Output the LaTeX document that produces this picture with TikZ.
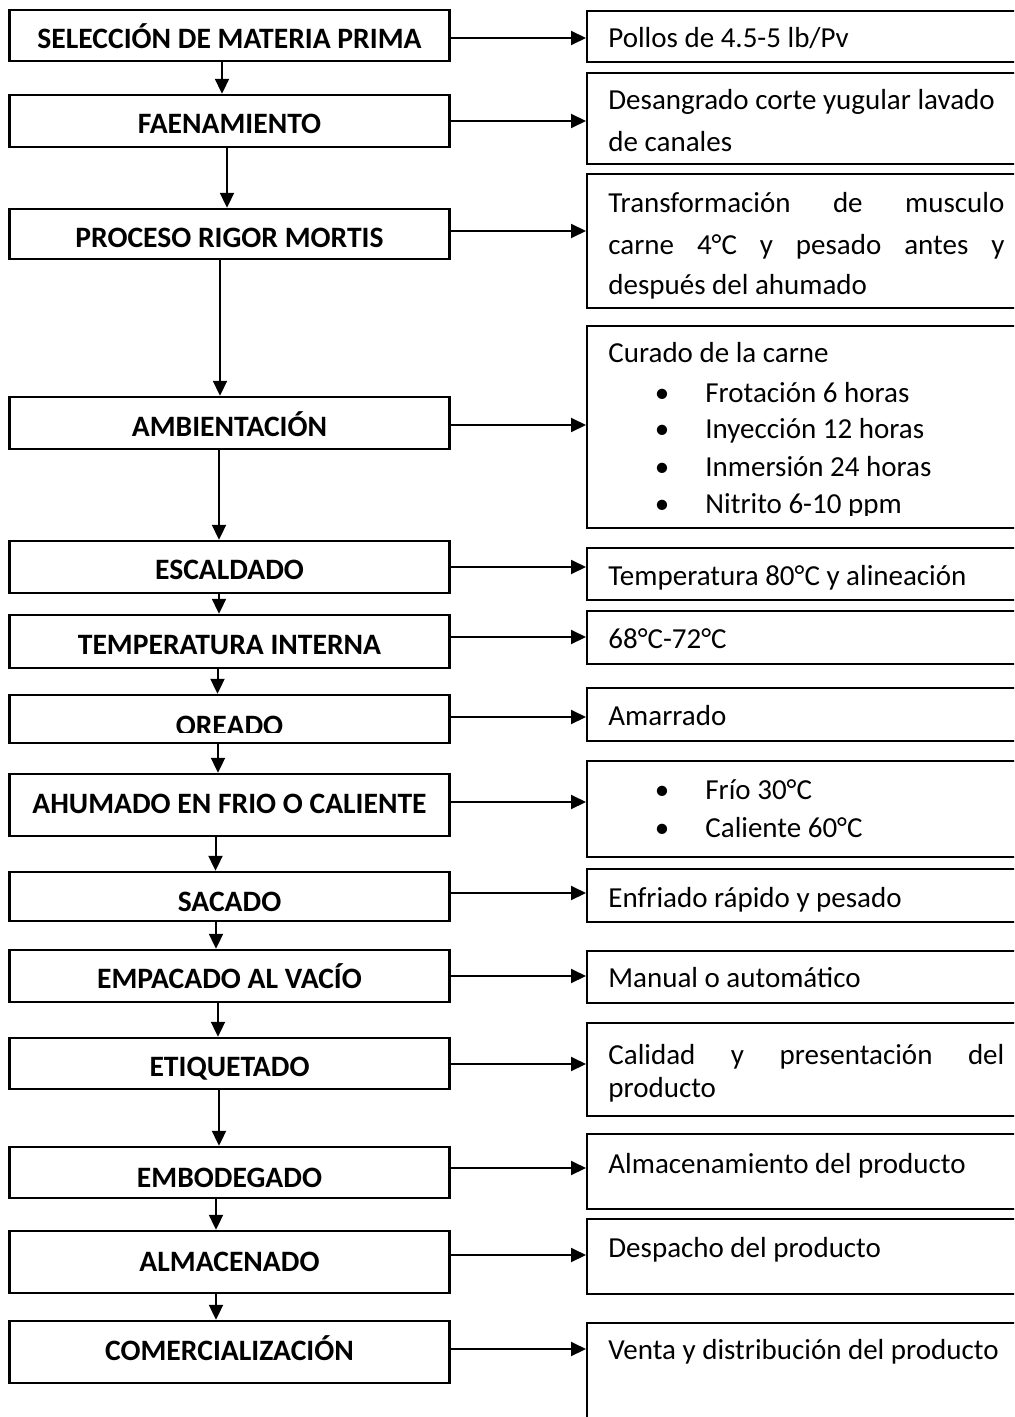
\documentclass[tikz,border=0pt]{standalone}
\usepackage{fontspec}
\setmainfont{Carlito}
\usetikzlibrary{arrows.meta}
\begin{document}
\begin{tikzpicture}[x=0.5pt,y=-0.5pt,
  lbox/.style={draw, line width=1.2pt, minimum width=220pt, inner sep=0pt},
  rbox/.style={draw, line width=1.2pt, minimum width=227pt, inner sep=0pt, anchor=north west},
  ltext/.style={font=\fontsize{14.8}{17}\selectfont\bfseries, anchor=base, inner sep=0pt},
  rtext/.style={font=\fontsize{14.5}{17}\selectfont, anchor=base west, inner sep=0pt},
  bul/.style={font=\fontsize{14.5}{17}\selectfont, anchor=base, inner sep=0pt},
  arr/.style={line width=1pt, -{Triangle[length=7.5pt,width=7pt]}}]
\useasboundingbox (0,0) rectangle (1014,1417);
\clip (0,0) rectangle (1014,1417);
\fill[white] (0,0) rectangle (1014,1417);
\newcommand{\jl}[1]{\makebox[198pt][s]{#1}}

% ---------- left process boxes ----------
\node[lbox, minimum height=25.5pt] (s1)  at (229.5,35.5)  {};
\node[lbox, minimum height=26pt]   (s2)  at (229.5,121)   {};
\node[lbox, minimum height=25pt]   (s3)  at (229.5,234)   {};
\node[lbox, minimum height=26pt]   (s4)  at (229.5,423)   {};
\node[lbox, minimum height=26pt]   (s5)  at (229.5,567)   {};
\node[lbox, minimum height=26.5pt] (s6)  at (229.5,641.5) {};
\node[lbox, minimum height=24pt]   (s7)  at (229.5,719)   {};
\node[lbox, minimum height=31pt]   (s8)  at (229.5,805)   {};
\node[lbox, minimum height=24.5pt] (s9)  at (229.5,896.5) {};
\node[lbox, minimum height=26pt]   (s10) at (229.5,976)   {};
\node[lbox, minimum height=25.5pt] (s11) at (229.5,1063.5){};
\node[lbox, minimum height=25.5pt] (s12) at (229.5,1172.5){};
\node[lbox, minimum height=31pt]   (s13) at (229.5,1262)  {};
\node[lbox, minimum height=31pt]   (s14) at (229.5,1352)  {};

\node[ltext] (t1)  at (229.5,49)   {SELECCIÓN DE MATERIA PRIMA};
\node[ltext] (t2)  at (229.5,134)  {FAENAMIENTO};
\node[ltext] (t3)  at (229.5,248)  {PROCESO RIGOR MORTIS};
\node[ltext] (t4)  at (229.5,436)  {AMBIENTACIÓN};
\node[ltext] (t5)  at (229.5,579)  {ESCALDADO};
\node[ltext] (t6)  at (229.5,654)  {TEMPERATURA INTERNA};
\begin{scope}
  \clip (10,696) rectangle (449,732);
  \node[ltext] (t7) at (229.5,735) {OREADO};
\end{scope}
\node[ltext] (t8)  at (229.5,813)  {AHUMADO EN FRIO O CALIENTE};
\node[ltext] (t9)  at (229.5,911)  {SACADO};
\node[ltext] (t10) at (229.5,988)  {EMPACADO AL VACÍO};
\node[ltext] (t11) at (229.5,1076) {ETIQUETADO};
\node[ltext] (t12) at (229.5,1187) {EMBODEGADO};
\node[ltext] (t13) at (229.5,1271) {ALMACENADO};
\node[ltext] (t14) at (229.5,1360) {COMERCIALIZACIÓN};

% ---------- right description boxes ----------
\node[rbox, minimum height=25.5pt] (r1)  at (586,10)   {};
\node[rbox, minimum height=45.5pt] (r2)  at (586,72)   {};
\node[rbox, minimum height=67pt]   (r3)  at (586,173)  {};
\node[rbox, minimum height=101pt]  (r4)  at (586,325)  {};
\node[rbox, minimum height=26pt]   (r5)  at (586,547)  {};
\node[rbox, minimum height=26.5pt] (r6)  at (586,610)  {};
\node[rbox, minimum height=26.5pt] (r7)  at (586,687)  {};
\node[rbox, minimum height=48pt]   (r8)  at (586,760)  {};
\node[rbox, minimum height=26.5pt] (r9)  at (586,868)  {};
\node[rbox, minimum height=26pt]   (r10) at (586,950)  {};
\node[rbox, minimum height=46.5pt] (r11) at (586,1022) {};
\node[rbox, minimum height=37.5pt] (r12) at (586,1133) {};
\node[rbox, minimum height=37.5pt] (r13) at (586,1218) {};
\node[rbox, minimum height=65pt]   (r14) at (586,1322) {};

\node[rtext] (d1)  at (608,48)  {Pollos de 4.5-5 lb/Pv};
\node[rtext] (d2a) at (608,110) {Desangrado corte yugular lavado};
\node[rtext] (d2b) at (608,152) {de canales};
\node[rtext] (d3a) at (608,213) {\jl{Transformación de musculo}};
\node[rtext] (d3b) at (608,255) {\jl{carne 4°C y pesado antes y}};
\node[rtext] (d3c) at (608,295) {después del ahumado};
\node[rtext] (d4)  at (608,363) {Curado de la carne};
\node[bul] (b41) at (662,402) {•};
\node[bul] (b42) at (662,438) {•};
\node[bul] (b43) at (662,476) {•};
\node[bul] (b44) at (662,513) {•};
\node[rtext] (d41) at (705,402) {Frotación 6 horas};
\node[rtext] (d42) at (705,438) {Inyección 12 horas};
\node[rtext] (d43) at (705,476) {Inmersión 24 horas};
\begin{scope}
  \clip (586,480) rectangle (1014,515);
  \node[rtext] (d44) at (705,513) {Nitrito 6-10 ppm};
\end{scope}
\node[rtext] (d5)  at (608,585) {Temperatura 80°C y alineación};
\node[rtext] (d6)  at (608,648) {68°C-72°C};
\node[rtext] (d7)  at (608,725) {Amarrado};
\node[bul] (b81) at (662,799) {•};
\node[bul] (b82) at (662,837) {•};
\node[rtext] (d81) at (705,799) {Frío 30°C};
\node[rtext] (d82) at (705,837) {Caliente 60°C};
\node[rtext] (d9)  at (608,907) {Enfriado rápido y pesado};
\node[rtext] (d10) at (608,987) {Manual o automático};
\node[rtext] (d11a) at (608,1064) {\jl{Calidad y presentación del}};
\node[rtext] (d11b) at (608,1097) {producto};
\node[rtext] (d12) at (608,1173) {Almacenamiento del producto};
\node[rtext] (d13) at (608,1257) {Despacho del producto};
\node[rtext] (d14) at (608,1359) {Venta y distribución del producto};

% ---------- vertical connectors ----------
\foreach \a/\b/\x in {s1/s2/222, s2/s3/227, s3/s4/220, s4/s5/219, s5/s6/219,
                     s6/s7/217.5, s7/s8/218, s8/s9/215.5, s9/s10/216, s10/s11/218,
                     s11/s12/219, s12/s13/216, s13/s14/216}{
  \coordinate (vx) at (\x,0);
  \draw[arr] (\a.south -| vx) -- (\b.north -| vx);
}

% ---------- horizontal connectors ----------
\foreach \i/\y in {1/38, 2/121, 3/231, 4/425, 5/567, 6/637, 7/717, 8/802,
                   9/893, 10/976, 11/1064, 12/1168, 13/1255, 14/1349}{
  \coordinate (hy) at (0,\y);
  \draw[arr] (s\i.east |- hy) -- (r\i.west |- hy);
}
\end{tikzpicture}
\end{document}
